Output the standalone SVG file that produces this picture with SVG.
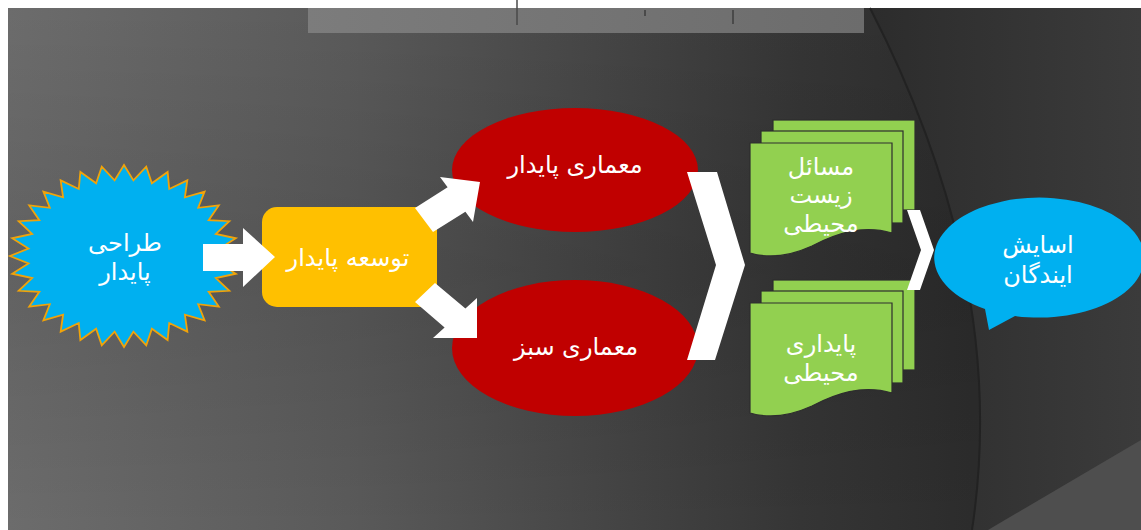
<svg xmlns="http://www.w3.org/2000/svg" width="1141" height="530" viewBox="0 0 1141 530">
<defs>
<linearGradient id="bg" x1="0" y1="0" x2="1" y2="0">
<stop offset="0" stop-color="#6c6c6c"/>
<stop offset="0.3" stop-color="#5a5a5a"/>
<stop offset="0.55" stop-color="#434343"/>
<stop offset="0.7" stop-color="#353535"/>
<stop offset="0.85" stop-color="#2c2c2c"/>
<stop offset="1" stop-color="#2c2c2c"/>
</linearGradient>
<linearGradient id="vshade" x1="0" y1="0" x2="0" y2="1">
<stop offset="0" stop-color="#000" stop-opacity="0"/>
<stop offset="0.5" stop-color="#000" stop-opacity="0.1"/>
<stop offset="1" stop-color="#000" stop-opacity="0"/>
</linearGradient>
<linearGradient id="right" x1="0" y1="0" x2="1" y2="0">
<stop offset="0" stop-color="#2c2c2c"/>
<stop offset="1" stop-color="#3b3b3b"/>
</linearGradient>
<linearGradient id="bar" x1="0" y1="0" x2="1" y2="0">
<stop offset="0" stop-color="#7c7c7c"/>
<stop offset="1" stop-color="#6c6c6c"/>
</linearGradient>
<style>
.t{font-family:"DejaVu Sans","Noto Sans",sans-serif;font-size:24px;fill:#ffffff;text-anchor:middle}
.page{fill:#92d050;stroke:#2e2e2e;stroke-width:1.2}
.white{fill:#ffffff}
</style>
</defs>

<rect x="0" y="0" width="1141" height="530" fill="#ffffff"/>
<rect x="8" y="8" width="1133" height="522" fill="url(#bg)"/>
<rect x="8" y="8" width="1133" height="522" fill="url(#vshade)"/>
<path d="M870,8 Q1010,280 972,530 L1141,530 L1141,8 Z" fill="url(#right)"/>
<path d="M870,8 Q1010,280 972,530" fill="none" stroke="#222222" stroke-width="2"/>
<polygon points="988,530 1141,440 1141,530" fill="#4e4e4e"/>
<rect x="308" y="8" width="556" height="25" fill="url(#bar)"/>
<line x1="517" y1="0" x2="517" y2="25" stroke="#4a4a4a" stroke-width="1.5"/>
<line x1="645" y1="10" x2="645" y2="16" stroke="#4a4a4a" stroke-width="2"/>
<line x1="733" y1="10" x2="733" y2="24" stroke="#4a4a4a" stroke-width="2"/>

<g id="node-star">
<polygon fill="#00b0f0" stroke="#f0a30a" stroke-width="1.8" stroke-linejoin="miter" points="238,256 219.54,263.45 235.81,273.75 215.87,278.06 229.32,290.82 208.66,291.83 218.79,306.56 198.21,304.21 204.61,320.35 184.9,314.75 187.33,331.66 169.25,323.03 167.63,340.07 151.87,328.73 146.24,345.25 133.41,331.63 124,347 114.59,331.63 101.76,345.25 96.13,328.73 80.37,340.07 78.75,323.03 60.67,331.66 63.1,314.75 43.39,320.35 49.79,304.21 29.21,306.56 39.34,291.83 18.68,290.82 32.13,278.06 12.19,273.75 28.46,263.45 10,256 28.46,248.55 12.19,238.25 32.13,233.94 18.68,221.18 39.34,220.17 29.21,205.44 49.79,207.79 43.39,191.65 63.1,197.25 60.67,180.34 78.75,188.97 80.37,171.93 96.13,183.27 101.76,166.75 114.59,180.37 124,165 133.41,180.37 146.24,166.75 151.87,183.27 167.63,171.93 169.25,188.97 187.33,180.34 184.9,197.25 204.61,191.65 198.21,207.79 218.79,205.44 208.66,220.17 229.32,221.18 215.87,233.94 235.81,238.25 219.54,248.55"/>
<text class="t" x="125" y="251">طراحی</text>
<text class="t" x="125" y="280">پایدار</text>
</g>

<g id="node-development">
<rect x="262" y="207" width="175" height="100" rx="15" fill="#ffc000"/>
<text class="t" x="348" y="266">توسعه پایدار</text>
</g>

<g id="node-sustainable-arch">
<ellipse cx="575" cy="170" rx="123" ry="62" fill="#c00000"/>
<text class="t" x="575" y="173">معماری پایدار</text>
</g>

<g id="node-green-arch">
<ellipse cx="575" cy="348" rx="123" ry="68" fill="#c00000"/>
<text class="t" x="576" y="355">معماری سبز</text>
</g>

<g id="node-env-issues">
<rect class="page" x="773" y="120" width="142" height="90"/>
<rect class="page" x="761" y="131" width="142" height="92"/>
<path class="page" d="M750,143 H892 V233 C862,224 835,234 812,246 C790,256 770,259 750,253 Z"/>
<text class="t" x="821" y="175">مسائل</text>
<text class="t" x="821" y="203">زیست</text>
<text class="t" x="821" y="232">محیطی</text>
</g>

<g id="node-env-sustainability">
<rect class="page" x="773" y="280" width="142" height="90"/>
<rect class="page" x="761" y="291" width="142" height="92"/>
<path class="page" d="M750,303 H892 V393 C862,384 835,394 812,406 C790,416 770,419 750,413 Z"/>
<text class="t" x="821" y="352">پایداری</text>
<text class="t" x="821" y="381">محیطی</text>
</g>

<g id="node-future-comfort">
<path d="M985,309 L989,330 L1015,316 A105,60 0 1 0 985,309 Z" fill="#00b0f0"/>
<text class="t" x="1038" y="253">اسایش</text>
<text class="t" x="1038" y="283">ایندگان</text>
</g>

<g id="connectors">
<polygon class="white" points="203,244 243,244 243,228 275,257 243,287 243,271 203,271"/>
<polygon class="white" points="415,208 447.6,187.3 440,177 480,182 473,222 465.4,211.7 433,232"/>
<polygon class="white" points="435,283 465.4,308.6 477,298 477,338 433,338 444.6,327.4 415,302"/>
<polygon class="white" points="687,172 717,172 745,265 715,360 687,360 716,265"/>
<polygon class="white" points="907,210 920,210 934,250 920,290 907,290 921,250"/>
</g>
</svg>
